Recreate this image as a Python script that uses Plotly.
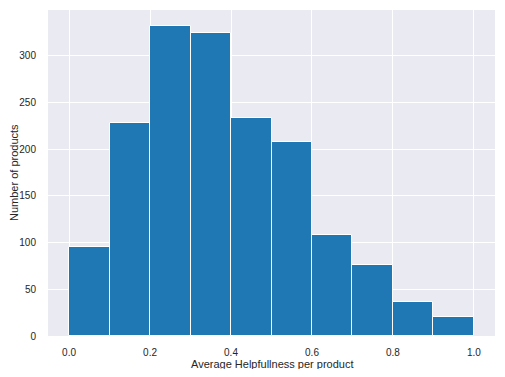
import plotly.graph_objects as go

bin_starts = [0.0, 0.1, 0.2, 0.3, 0.4, 0.5, 0.6, 0.7, 0.8, 0.9]
counts = [95, 228, 332, 324, 233, 208, 108, 76, 36, 20]
bin_width = 0.1
x_ticks = [0.0, 0.2, 0.4, 0.6, 0.8, 1.0]
x_tick_labels = ["0.0", "0.2", "0.4", "0.6", "0.8", "1.0"]
y_ticks = [0, 50, 100, 150, 200, 250, 300]
x_title = "Average Helpfullness per product"
y_title = "Number of products"

fig = go.Figure()
fig.add_trace(go.Bar(
    x=[s + bin_width / 2 for s in bin_starts],
    y=counts,
    width=[bin_width] * len(counts),
    marker=dict(color="#1f77b4", line=dict(color="white", width=1)),
))

font_family = "Liberation Sans, Arial, sans-serif"
# page body has an 8px default margin, so the figure is sized to fit inside the 505x377 window
fig.update_layout(
    width=489, height=361,
    margin=dict(l=40, r=2, t=2, b=33),
    paper_bgcolor="white",
    plot_bgcolor="#EAEAF2",
    showlegend=False,
    bargap=0,
    font=dict(family=font_family, size=10, color="#262626"),
    xaxis=dict(
        range=[-0.052, 1.052],
        tickvals=x_ticks, ticktext=x_tick_labels,
        showgrid=True, gridcolor="white", gridwidth=1,
        zeroline=False, showline=False, automargin=False,
        ticks="outside", ticklen=7, tickcolor="rgba(0,0,0,0)",
        tickfont=dict(size=10, color="#262626"),
    ),
    yaxis=dict(
        range=[0, 349],
        tickvals=y_ticks,
        showgrid=True, gridcolor="white", gridwidth=1,
        zeroline=False, showline=False, automargin=False,
        ticks="outside", ticklen=9, tickcolor="rgba(0,0,0,0)",
        tickfont=dict(size=10, color="#262626"),
    ),
    annotations=[
        dict(text=x_title, xref="paper", yref="paper", x=0.5, y=0,
             xanchor="center", yanchor="middle", yshift=-28, showarrow=False,
             font=dict(size=11, color="#262626")),
        dict(text=y_title, xref="paper", yref="paper", x=0, y=0.5,
             xanchor="center", yanchor="middle", xshift=-34, textangle=-90, showarrow=False,
             font=dict(size=11, color="#262626")),
    ],
)

fig.write_html("out.html")
